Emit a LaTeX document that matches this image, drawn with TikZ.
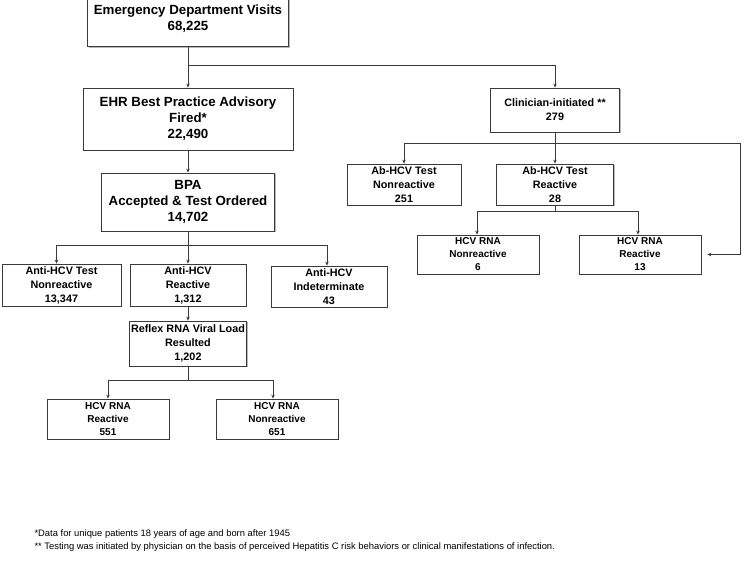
\documentclass[tikz,border=0pt]{standalone}
\usepackage{fontspec}
\setmainfont{Liberation Sans}
\usepackage{tikz}
\usetikzlibrary{arrows.meta}
\usetikzlibrary{shadows}
\definecolor{fc-line}{HTML}{3A3A3A}
\definecolor{fc-shadow}{HTML}{9A9A9A}

\begin{document}
\begin{tikzpicture}[x=1pt, y=-1pt,
    box/.style={draw=fc-line, line width=0.8pt, fill=white, align=center, inner sep=0pt,
        drop shadow={shadow xshift=1.2pt, shadow yshift=-1.2pt, fill=fc-shadow, opacity=0.7}},
    bigbox/.style={box, font=\fontsize{13.3}{16}\selectfont\bfseries},
    midbox/.style={box, font=\fontsize{10.8}{14}\selectfont\bfseries},
    smallbox/.style={box, font=\fontsize{10}{13}\selectfont\bfseries},
    arr/.style={-{Stealth[length=4pt, width=3.5pt]}, fc-line, line width=0.7pt},
    link/.style={fc-line, line width=0.7pt}]
    % Page
    \fill[white] (0,0) rectangle (748,572);
    \useasboundingbox (0,0) rectangle (748,572);
    \clip (0,0) rectangle (748,572);
    % Left column
    \node[bigbox, minimum width=201pt, minimum height=56pt] (visits) at (188,18.5) {Emergency Department Visits\\68,225};
    \node[bigbox, minimum width=210pt, minimum height=62pt] (ehr) at (188,119) {EHR Best Practice Advisory\\Fired*\\22,490};
    \node[bigbox, minimum width=173pt, minimum height=58pt] (bpa) at (188,202) {BPA\\Accepted \& Test Ordered\\14,702};
    \node[midbox, minimum width=119pt, minimum height=42pt] (antiNon) at (61.5,285) {Anti-HCV Test\\Nonreactive\\13,347};
    \node[midbox, minimum width=116pt, minimum height=42pt] (antiReac) at (188,285) {Anti-HCV\\Reactive\\1,312};
    \node[midbox, minimum width=116pt, minimum height=41pt] (antiInd) at (329,286.5) {Anti-HCV\\Indeterminate\\43};
    \node[midbox, minimum width=117pt, minimum height=45pt] (reflex) at (188,343.5) {Reflex RNA Viral Load\\Resulted\\1,202};
    \node[smallbox, minimum width=122pt, minimum height=40pt] (rnaReacL) at (108,419) {HCV RNA\\Reactive\\551};
    \node[smallbox, minimum width=122pt, minimum height=40pt] (rnaNonL) at (277,419) {HCV RNA\\Nonreactive\\651};
    % Right column
    \node[midbox, minimum width=129pt, minimum height=44pt] (clin) at (555,110) {Clinician-initiated **\\279};
    \node[midbox, minimum width=114pt, minimum height=41pt] (abNon) at (404,184.5) {Ab-HCV Test\\Nonreactive\\251};
    \node[midbox, minimum width=117pt, minimum height=41pt] (abReac) at (555,184.5) {Ab-HCV Test\\Reactive\\28};
    \node[smallbox, minimum width=122pt, minimum height=39pt] (rnaNonR) at (478,254.5) {HCV RNA\\Nonreactive\\6};
    \node[smallbox, minimum width=122pt, minimum height=39pt] (rnaReacR) at (640,254.5) {HCV RNA\\Reactive\\13};
    % Branch points
    \coordinate (s1) at (188,65);
    \coordinate (s2) at (188,245);
    \coordinate (s3) at (188,380);
    \coordinate (s4) at (555,143);
    \coordinate (s5) at (555,211);
    \coordinate (loop) at (740,143);
    % Connectors, left
    \draw[arr] (visits.south) -- (ehr.north);
    \draw[arr] (s1) -| (clin.north);
    \draw[arr] (ehr.south) -- (bpa.north);
    \draw[arr] (bpa.south) -- (antiReac.north);
    \draw[arr] (s2) -| ([xshift=-5pt]antiNon.north);
    \draw[arr] (s2) -| ([xshift=-2pt]antiInd.north);
    \draw[arr] (antiReac.south) -- (reflex.north);
    \draw[link] (reflex.south) -- (s3);
    \draw[arr] (s3) -| (rnaReacL.north);
    \draw[arr] (s3) -| ([xshift=-4pt]rnaNonL.north);
    % Connectors, right
    \draw[arr] (clin.south) -- (abReac.north);
    \draw[arr] (s4) -| (abNon.north);
    \draw[arr, shorten >=6pt] (s4) -- (loop) |- (rnaReacR.east);
    \draw[link] (abReac.south) -- (s5);
    \draw[arr] (s5) -| ([xshift=-1pt]rnaNonR.north);
    \draw[arr] (s5) -| ([xshift=-2pt]rnaReacR.north);
    % Footnotes
    \node[anchor=west, font=\fontsize{9.4}{11}\selectfont] (note1) at (31,534) {*Data for unique patients 18 years of age and born after 1945};
    \node[anchor=west, font=\fontsize{9.4}{11}\selectfont] (note2) at (31,547) {** Testing was initiated by physician on the basis of perceived Hepatitis C risk behaviors or clinical manifestations of infection.};
\end{tikzpicture}
\end{document}
